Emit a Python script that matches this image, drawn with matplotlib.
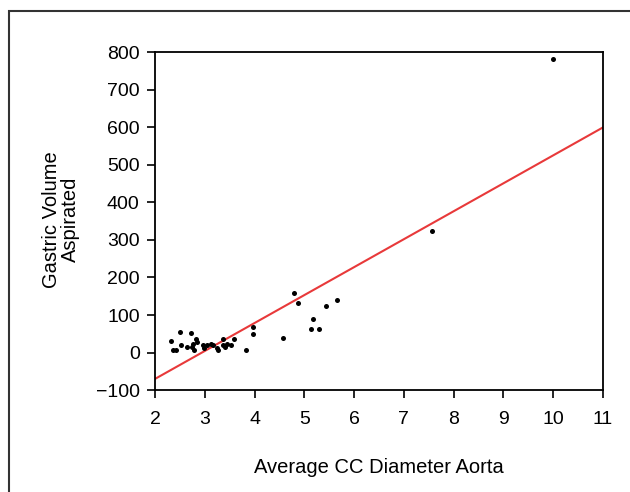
import numpy as np
import matplotlib
matplotlib.use('Agg')
import matplotlib.pyplot as plt
from matplotlib.patches import Rectangle

plt.rcParams['font.family'] = ['Liberation Sans', 'DejaVu Sans']

# Data
diameter = [2.32, 2.36, 2.42, 2.50, 2.52, 2.65, 2.73, 2.74, 2.77, 2.79, 2.82, 2.85,
            2.96, 2.98, 3.05, 3.12, 3.17, 3.24, 3.27, 3.36, 3.37, 3.41, 3.44, 3.52,
            3.59, 3.82, 3.97, 3.97, 4.58, 4.79, 4.88, 5.13, 5.17, 5.29, 5.43, 5.66,
            7.57, 10.0]
volume = [30, 8, 8, 54, 20, 14, 51, 15, 24, 8, 37, 29,
          20, 11, 20, 24, 20, 11, 8, 37, 20, 15, 22, 20,
          35, 8, 68, 49, 38, 160, 133, 64, 89, 64, 124, 139,
          324, 781]

fit_slope = 74.4
fit_intercept = -218.9
x_ticks = [2, 3, 4, 5, 6, 7, 8, 9, 10, 11]
y_ticks = [-100, 0, 100, 200, 300, 400, 500, 600, 700, 800]

fig = plt.figure(figsize=(6.3, 4.92), dpi=100)
ax = fig.add_axes([0.246, 0.207, 0.711, 0.687])

# regression line
xs = np.array([2, 11])
ax.plot(xs, fit_slope * xs + fit_intercept, color='#e8393a', lw=1.5, zorder=2)

# points
ax.scatter(diameter, volume, s=13, color='black', zorder=3, linewidths=0)

ax.set_xlim(2, 11)
ax.set_ylim(-100, 800)
ax.set_xticks(x_ticks)
ax.set_yticks(y_ticks)
ax.tick_params(direction='out', length=6, width=1.2, labelsize=14)
ax.tick_params(axis='x', pad=9)
ax.tick_params(axis='y', pad=5)
for s in ax.spines.values():
    s.set_linewidth(1.3)

ax.set_xlabel('Average CC Diameter Aorta', fontsize=14.5)
ax.set_ylabel('Gastric Volume\nAspirated', fontsize=14.5, linespacing=1.0)
ax.xaxis.set_label_coords(0.5, -0.2)
ax.yaxis.set_label_coords(-0.167, 0.504)

# outer frame of the original figure
fig.patches.append(Rectangle((9 / 630, -0.1), 1.2, 1 - 11 / 492 + 0.1,
                             transform=fig.transFigure, fill=False,
                             edgecolor='#333333', lw=1.5))

plt.savefig('out.png', dpi=100)
